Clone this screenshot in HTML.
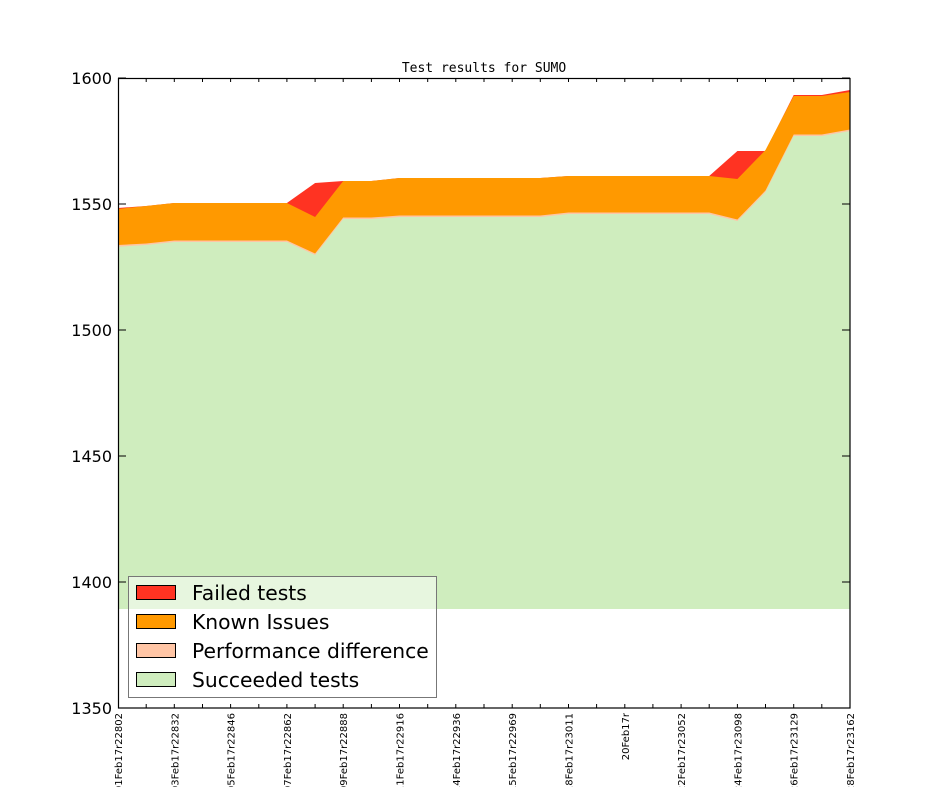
<!DOCTYPE html>
<html><head><meta charset="utf-8"><style>body{margin:0;background:#fff}svg{display:block}</style></head><body>
<svg width="944" height="787" xmlns="http://www.w3.org/2000/svg" font-family="DejaVu Sans, Liberation Sans, sans-serif">
<rect width="944" height="787" fill="#fff"/>
<text x="484" y="72" font-size="13" text-anchor="middle" font-family="DejaVu Sans Mono, Liberation Mono, monospace">Test results for SUMO</text>
<polygon fill="#ff3322" points="118,208 146.2,206 174.3,203 202.5,203 230.6,203 258.8,203 286.9,203 315.1,183 343.2,181 371.4,181 399.5,178 427.7,178 455.8,178 484,178 512.2,178 540.3,178 568.5,176 596.6,176 624.8,176 652.9,176 681.1,176 709.2,176 737.4,151 765.5,151 793.7,95 821.8,95 850,90 850,609 118,609"/>
<polygon fill="#ff9900" points="118,209 146.2,206 174.3,203 202.5,203 230.6,203 258.8,203 286.9,203 315.1,217 343.2,181 371.4,181 399.5,178 427.7,178 455.8,178 484,178 512.2,178 540.3,178 568.5,176 596.6,176 624.8,176 652.9,176 681.1,176 709.2,176 737.4,179 765.5,150 793.7,96 821.8,96 850,92 850,609 118,609"/>
<polygon fill="#ffc5a5" points="118,245 146.2,243.5 174.3,240.5 202.5,240.5 230.6,240.5 258.8,240.5 286.9,240.5 315.1,253.5 343.2,217.5 371.4,217.5 399.5,215.5 427.7,215.5 455.8,215.5 484,215.5 512.2,215.5 540.3,215.5 568.5,212.5 596.6,212.5 624.8,212.5 652.9,212.5 681.1,212.5 709.2,212.5 737.4,219.5 765.5,190.5 793.7,134.5 821.8,134.5 850,129.5 850,609 118,609"/>
<polygon fill="#cfedbe" points="118,246.7 146.2,245 174.3,242 202.5,242 230.6,242 258.8,242 286.9,242 315.1,255 343.2,219 371.4,219 399.5,217 427.7,217 455.8,217 484,217 512.2,217 540.3,217 568.5,214 596.6,214 624.8,214 652.9,214 681.1,214 709.2,214 737.4,221 765.5,192 793.7,136 821.8,136 850,131 850,609 118,609"/>
<rect x="128.5" y="576.5" width="308" height="121" fill="#fff" fill-opacity="0.5" stroke="#777" stroke-width="1"/>
<g font-size="20.3">
<rect x="136.5" y="585.5" width="39" height="14" fill="#ff3322" stroke="#000"/><text x="192" y="600">Failed tests</text>
<rect x="136.5" y="614.5" width="39" height="14" fill="#ff9900" stroke="#000"/><text x="192" y="629">Known Issues</text>
<rect x="136.5" y="643.5" width="39" height="14" fill="#ffc5a5" stroke="#000"/><text x="192" y="658">Performance difference</text>
<rect x="136.5" y="672.5" width="39" height="14" fill="#cfedbe" stroke="#000"/><text x="192" y="687">Succeeded tests</text>
</g>
<rect x="118.5" y="78.5" width="731.5" height="629.5" fill="none" stroke="#000" stroke-width="1.2"/>
<g stroke="#000" stroke-width="1">
<path d="M118,708h8M850,708h-8M118,582h8M850,582h-8M118,456h8M850,456h-8M118,330h8M850,330h-8M118,204h8M850,204h-8M118,78h8M850,78h-8"/>
<path d="M146.2,708v-4M174.3,708v-4M202.5,708v-4M230.6,708v-4M258.8,708v-4M286.9,708v-4M315.1,708v-4M343.2,708v-4M371.4,708v-4M399.5,708v-4M427.7,708v-4M455.8,708v-4M484,708v-4M512.2,708v-4M540.3,708v-4M568.5,708v-4M596.6,708v-4M624.8,708v-4M652.9,708v-4M681.1,708v-4M709.2,708v-4M737.4,708v-4M765.5,708v-4M793.7,708v-4M821.8,708v-4"/>
<path d="M146.2,78v4M174.3,78v4M202.5,78v4M230.6,78v4M258.8,78v4M286.9,78v4M315.1,78v4M343.2,78v4M371.4,78v4M399.5,78v4M427.7,78v4M455.8,78v4M484,78v4M512.2,78v4M540.3,78v4M568.5,78v4M596.6,78v4M624.8,78v4M652.9,78v4M681.1,78v4M709.2,78v4M737.4,78v4M765.5,78v4M793.7,78v4M821.8,78v4"/>
</g>
<g font-size="16" text-anchor="end">
<text x="112" y="714">1350</text><text x="112" y="588">1400</text><text x="112" y="462">1450</text><text x="112" y="336">1500</text><text x="112" y="210">1550</text><text x="112" y="84">1600</text>
</g>
<g font-size="10" text-anchor="end">
<text transform="translate(122,713) rotate(-90)">01Feb17r22802</text>
<text transform="translate(178.3,713) rotate(-90)">03Feb17r22832</text>
<text transform="translate(234.6,713) rotate(-90)">05Feb17r22846</text>
<text transform="translate(290.9,713) rotate(-90)">07Feb17r22862</text>
<text transform="translate(347.2,713) rotate(-90)">09Feb17r22888</text>
<text transform="translate(403.5,713) rotate(-90)">11Feb17r22916</text>
<text transform="translate(459.8,713) rotate(-90)">14Feb17r22936</text>
<text transform="translate(516.2,713) rotate(-90)">15Feb17r22969</text>
<text transform="translate(572.5,713) rotate(-90)">18Feb17r23011</text>
<text transform="translate(628.8,713) rotate(-90)">20Feb17r</text>
<text transform="translate(685.1,713) rotate(-90)">22Feb17r23052</text>
<text transform="translate(741.4,713) rotate(-90)">24Feb17r23098</text>
<text transform="translate(797.7,713) rotate(-90)">26Feb17r23129</text>
<text transform="translate(854,713) rotate(-90)">28Feb17r23162</text>
</g>
</svg>
</body></html>
